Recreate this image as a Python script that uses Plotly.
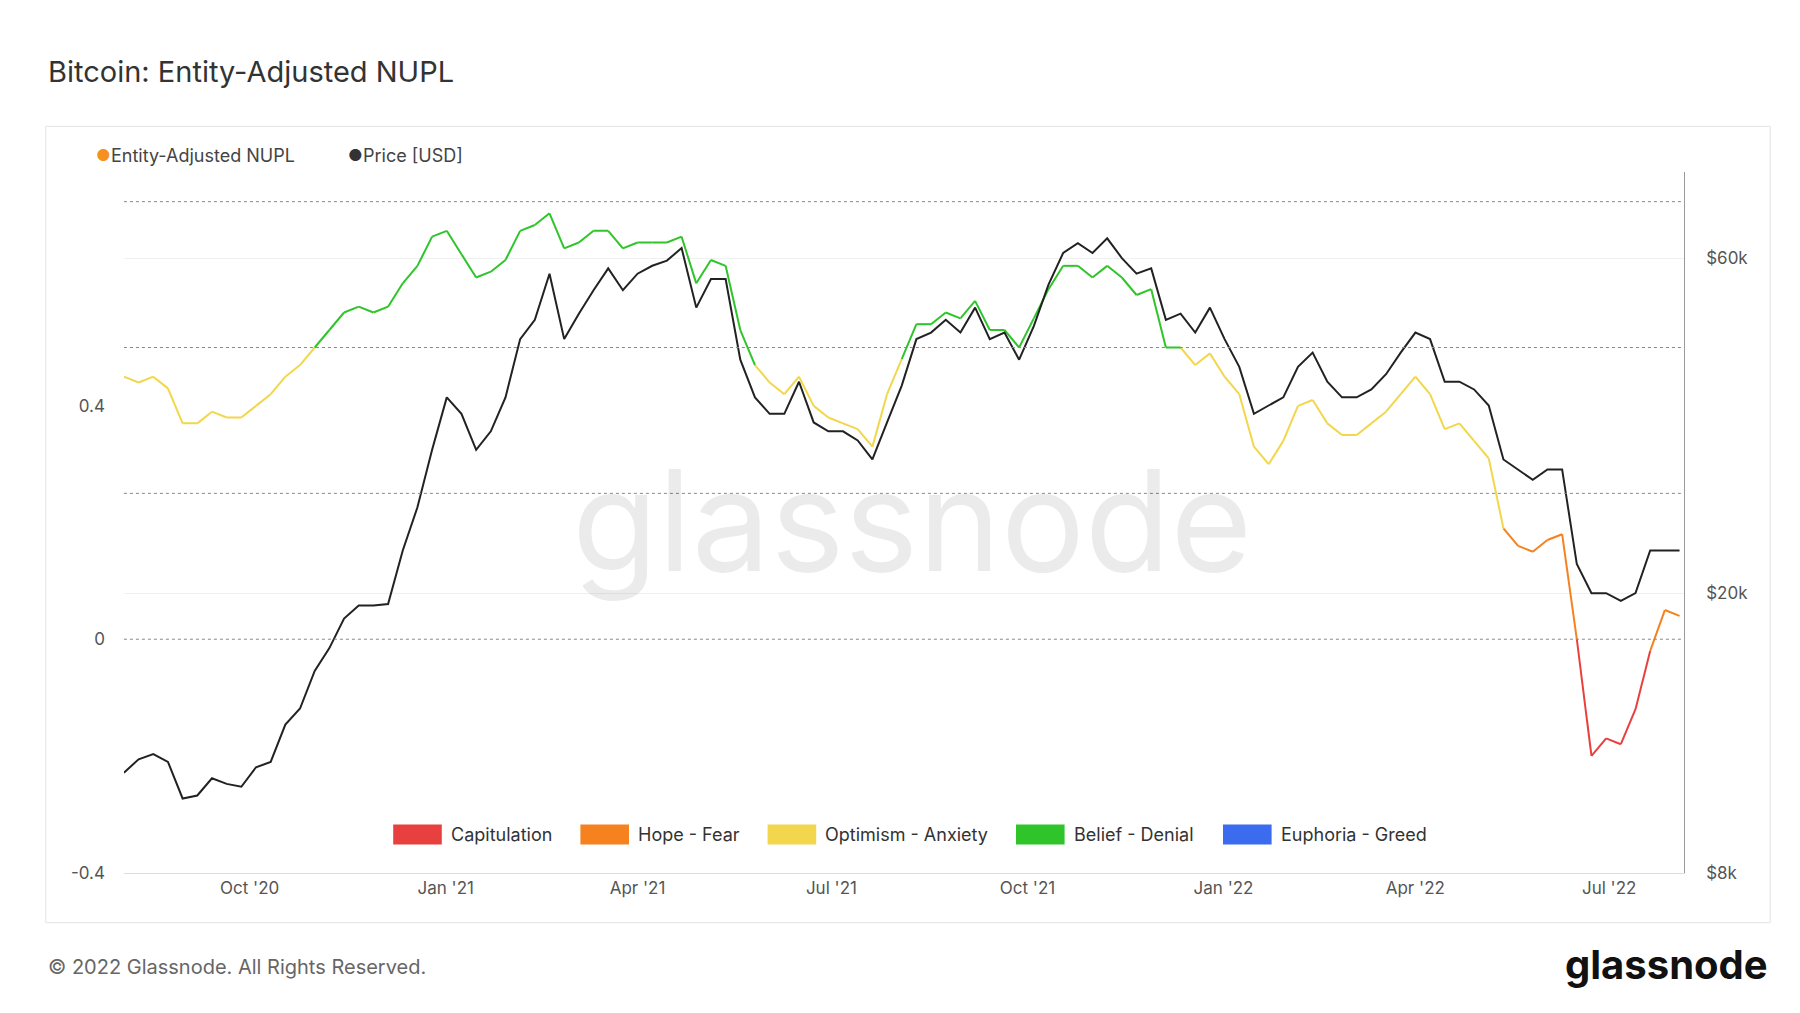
import plotly.graph_objects as go
import pandas as pd
import numpy as np

price = [11100,11600,11800,11500, 10200,10300,10900,10700, 10600,11300,11500,13000,
         13700,15500,16700,18400,19200, 19200,19300,23000,26500,
         32000,38000,36000,32000,34000, 38000,46000,49000,57000,46000,
         50000,54000,58000,54000,57000, 58500,59500,62000,51000,
         56000,56000,43000,38000,36000, 36000,40000,35000,34000,
         34000,33000,31000,35000, 39500,46000,47000,49000,47000,
         51000,46000,47000,43000, 48000,55000,61000,63000,
         61000,64000,60000,57000,58000, 49000,50000,47000,51000,
         46000,42000,36000,37000,38000, 42000,44000,40000,38000,
         38000,39000,41000,44000,47000, 46000,40000,40000,39000,
         37000,31000,30000,29000,30000, 30000,22000,20000,20000,
         19500,20000,23000,23000, 23000]
nupl = [.45,.44,.45,.43, .37,.37,.39,.38, .38,.40,.42,.45, .47,.50,.53,.56,.57,
        .56,.57,.61,.64, .69,.70,.66,.62,.63, .65,.70,.71,.73,.67, .68,.70,.70,.67,.68,
        .68,.68,.69,.61, .65,.64,.53,.47,.44, .42,.45,.40,.38, .37,.36,.33,.42,
        .48,.54,.54,.56,.55, .58,.53,.53,.50, .55,.60,.64,.64, .62,.64,.62,.59,.60,
        .50,.50,.47,.49, .45,.42,.33,.30,.34, .40,.41,.37,.35, .35,.37,.39,.42,.45,
        .42,.36,.37,.34, .31,.19,.16,.15,.17, .18,.00,-.20,-.17, -.18,-.12,-.02,.05, .04]
start, end = pd.Timestamp("2020-08-03"), pd.Timestamp("2022-08-03")
dates = pd.to_datetime(np.linspace(start.value, end.value, len(price)))

zones = ["Capitulation", "Hope - Fear", "Optimism - Anxiety", "Belief - Denial", "Euphoria - Greed"]
zcolors = ["#e8403f", "#f5821f", "#f2d64b", "#2fc52a", "#3b6cf0"]
bounds = [-10, 0, 0.25, 0.5, 0.75, 10]

def zone(v):
    for i in range(5):
        if bounds[i] <= v < bounds[i+1]:
            return i
    return 4

fig = go.Figure()
segs = {i: ([], []) for i in range(5)}
for k in range(len(nupl)-1):
    z = zone((nupl[k]+nupl[k+1])/2)
    segs[z][0].extend([dates[k], dates[k+1], None])
    segs[z][1].extend([nupl[k], nupl[k+1], None])
for i in range(5):
    fig.add_trace(go.Scatter(x=segs[i][0], y=segs[i][1], mode="lines",
                             line=dict(color=zcolors[i], width=2), showlegend=False, yaxis="y"))
fig.add_trace(go.Scatter(x=dates, y=price, mode="lines", line=dict(color="#222", width=2),
                         showlegend=False, yaxis="y2"))

fig.update_layout(
    width=1800, height=1013, paper_bgcolor="white", plot_bgcolor="white",
    margin=dict(l=0, r=0, t=0, b=0), font=dict(family="Inter", color="#555", size=17),
    xaxis=dict(domain=[0.0644, 0.931], range=[start, end + pd.Timedelta(days=2)],
               tickvals=pd.to_datetime(["2020-10-01","2021-01-01","2021-04-01","2021-07-01",
                                        "2021-10-01","2022-01-01","2022-04-01","2022-07-01"]),
               ticktext=["Oct '20","Jan '21","Apr '21","Jul '21","Oct '21","Jan '22","Apr '22","Jul '22"],
               showgrid=False, showline=True, linecolor="#ddd", ticks=""),
    yaxis=dict(domain=[0.138, 0.836], range=[-0.4, 0.8], tickvals=[-0.4, 0, 0.4],
               ticktext=["-0.4", "0", "0.4"], showgrid=False, zeroline=False, ticklabelstandoff=18),
    yaxis2=dict(overlaying="y", side="right", type="log", range=[np.log10(8000), 4.90],
                tickvals=[8000, 20000, 60000], ticktext=["$8k", "$20k", "$60k"],
                showgrid=True, gridcolor="#f0f0f0", showline=True, linecolor="#999",
                ticklabelstandoff=18),
)
for v in [0, 0.25, 0.5, 0.75]:
    fig.add_shape(type="line", xref="x domain", yref="y", x0=0, x1=1, y0=v, y1=v,
                  line=dict(color="#888", width=1, dash="dot"))
fig.add_shape(type="rect", xref="paper", yref="paper", x0=0.021, x1=0.979, y0=0.088, y1=0.882,
              line=dict(color="#e3e3e3", width=1), layer="below")
fig.add_annotation(text="Bitcoin: Entity-Adjusted NUPL", xref="paper", yref="paper", x=0.021, y=0.937,
                   xanchor="left", yanchor="middle", showarrow=False, font=dict(size=29, color="#333"))
fig.add_annotation(text="glassnode", xref="paper", yref="paper", x=0.502, y=0.49, showarrow=False,
                   font=dict(size=140, color="rgba(0,0,0,0.08)", family="Inter"))
fig.add_annotation(text="© 2022 Glassnode. All Rights Reserved.", xref="paper", yref="paper",
                   x=0.021, y=0.044, xanchor="left", yanchor="middle", showarrow=False,
                   font=dict(size=20, color="#666"))
fig.add_annotation(text="<b>glassnode</b>", xref="paper", yref="paper", x=0.979, y=0.046,
                   xanchor="right", yanchor="middle", showarrow=False, font=dict(size=40, color="#111"))
# top legend
for x0, col, txt in [(0.048, "#f5921f", "Entity-Adjusted NUPL"), (0.188, "#333", "Price [USD]")]:
    fig.add_annotation(text="●", xref="paper", yref="paper", x=x0, y=0.853, showarrow=False,
                       yanchor="middle", font=dict(size=16, color=col))
    fig.add_annotation(text=txt, xref="paper", yref="paper", x=x0+0.008, y=0.853, xanchor="left",
                       yanchor="middle", showarrow=False, font=dict(size=18, color="#444"))
# zone legend
lx = [0.245, 0.349, 0.453, 0.591, 0.706]
for i in range(5):
    fig.add_shape(type="rect", xref="paper", yref="paper", x0=lx[i]-0.031, x1=lx[i]-0.004,
                  y0=0.166, y1=0.186, fillcolor=zcolors[i], line=dict(width=0))
    fig.add_annotation(text=zones[i], xref="paper", yref="paper", x=lx[i], y=0.176, xanchor="left",
                       yanchor="middle", showarrow=False, font=dict(size=18, color="#333"))
fig.write_html("out.html")
